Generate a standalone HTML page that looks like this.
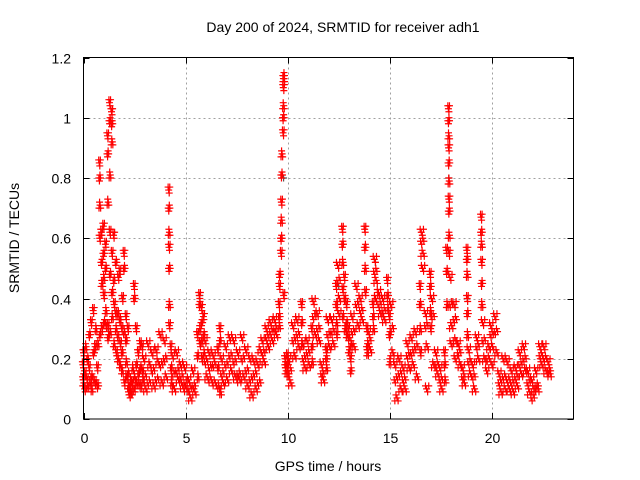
<!DOCTYPE html>
<html><head><meta charset="utf-8"><style>
body{margin:0;background:#fff}
svg{display:block;font-family:"Liberation Sans",sans-serif}
</style></head><body>
<svg id="chart" width="640" height="480" viewBox="0 0 640 480">
<rect width="640" height="480" fill="#fff"/>
<text x="343" y="32" font-size="14" text-anchor="middle">Day 200 of 2024, SRMTID for receiver adh1</text>
<text x="328" y="471" font-size="14" text-anchor="middle">GPS time / hours</text>
<text transform="translate(19,238) rotate(-90)" font-size="14" text-anchor="middle">SRMTID / TECUs</text>
<g id="grid"></g>
<g id="marks"></g>
<rect x="83.5" y="57.5" width="490" height="361.5" fill="none" stroke="#000" stroke-width="1"/>
<g id="ticks"></g>
</svg>
<script>
const xTicks=[0,5,10,15,20];
const yTicks=[0,0.2,0.4,0.6,0.8,1,1.2];
const yTickLabels=["0","0.2","0.4","0.6","0.8","1","1.2"];
const hours=[0.0,0.1,0.2,0.3,0.4,0.5,0.6,0.7,0.8,0.9,1.0,1.1,1.2,1.3,1.4,1.5,1.6,1.7,1.8,1.9,2.0,2.1,2.2,2.3,2.4,2.5,2.6,2.7,2.8,2.9,3.0,3.2,3.4,3.6,3.8,4.0,4.2,4.3,4.4,4.6,4.8,5.0,5.2,5.4,5.6,5.7,5.8,5.9,6.0,6.2,6.4,6.6,6.7,6.8,7.0,7.2,7.4,7.6,7.8,8.0,8.2,8.4,8.6,8.8,9.0,9.2,9.4,9.6,9.7,9.8,9.9,10.0,10.1,10.3,10.5,10.7,10.8,11.0,11.2,11.3,11.5,11.7,11.9,12.0,12.2,12.4,12.5,12.7,12.8,12.9,13.0,13.1,13.2,13.4,13.6,13.8,13.9,14.0,14.2,14.3,14.5,14.7,14.9,15.0,15.1,15.3,15.5,15.7,15.9,16.1,16.3,16.5,16.6,16.8,17.0,17.1,17.3,17.5,17.7,17.8,17.9,18.0,18.2,18.4,18.6,18.8,18.9,19.1,19.3,19.5,19.6,19.8,20.0,20.2,20.4,20.6,20.8,21.0,21.2,21.4,21.6,21.8,22.0,22.2,22.4,22.6,22.8];
const srmtid=[[.18,.14,.12,.22],[.15,.10,.24],[.13,.20,.11],[.17,.28,.12],[.32,.14,.10],[.36,.22,.13],[.24,.12,.30],[.17,.11,.25],[.85,.80,.71,.60,.28],[.62,.52,.45,.30],[.64,.55,.47,.41,.32],[.58,.50,.36,.31],[.94,.88,.72,.31,.27],[1.05,.99,.81,.62,.48,.29],[1.02,.98,.92,.55,.42,.34],[.61,.46,.25,.38],[.35,.52,.30,.22],[.27,.35,.20,.47],[.49,.33,.18,.25],[.30,.22,.16,.40],[.55,.50,.29,.12],[.34,.26,.19,.14],[.30,.15,.11,.09],[.10,.08,.13],[.12,.09,.17],[.44,.40,.14,.10],[.30,.18,.12],[.22,.15,.12],[.25,.17,.11],[.24,.16,.13],[.20,.14,.10],[.25,.12,.18],[.22,.16,.11],[.23,.13,.19],[.28,.18,.12],[.26,.20,.14],[.76,.70,.62,.57,.50,.38,.31],[.24,.17,.12],[.21,.15,.10],[.22,.16,.13],[.18,.14,.11],[.17,.12,.10],[.13,.10,.07],[.16,.11,.09],[.28,.21,.14],[.41,.38,.30,.25],[.37,.32,.26,.20],[.34,.28,.22],[.26,.19,.14],[.22,.17,.13],[.21,.18,.12],[.23,.17,.11],[.30,.26,.09],[.20,.15,.12],[.24,.18,.13],[.27,.21,.16],[.26,.19,.14],[.22,.15,.13],[.27,.20,.14],[.23,.16,.11],[.20,.13,.08],[.19,.15,.10],[.18,.12,.23],[.26,.22,.19],[.30,.27,.24],[.32,.29,.26],[.33,.30,.28],[.38,.34,.31,.44,.48],[.55,.60,.66,.72,.81,.88],[.95,1.00,1.04,1.10,1.14,1.13,.41],[.20,.18,.16],[.21,.18,.15],[.20,.16,.12],[.31,.26,.21],[.33,.28,.24],[.38,.32,.25],[.25,.20,.17],[.26,.22,.18],[.30,.24,.19],[.39,.34,.28],[.35,.30,.26],[.18,.15,.13],[.23,.20,.17],[.33,.28,.24],[.33,.29,.25],[.44,.38,.32,.28],[.51,.46,.40,.35],[.63,.58,.52,.43,.34],[.47,.40,.30],[.38,.32,.28],[.30,.27,.23],[.20,.16,.25],[.34,.29,.24],[.44,.38,.31],[.40,.36,.33],[.63,.57,.50,.42],[.30,.24,.22],[.29,.26,.23],[.38,.34,.30],[.53,.49,.46,.40],[.42,.38,.35],[.40,.36,.33],[.46,.41,.37],[.34,.28,.19],[.38,.30,.22],[.18,.13,.07],[.20,.15,.10],[.17,.13,.10],[.25,.21,.17],[.27,.22,.18],[.29,.24,.14],[.44,.38,.30,.22],[.62,.59,.55,.50],[.35,.31,.24,.10],[.48,.44,.36,.30],[.40,.34,.18],[.22,.18,.15],[.17,.13,.10],[.22,.18,.13],[.56,.49,.38],[1.03,.99,.94,.90,.85,.79,.73,.69,.61,.55],[.47,.38,.31,.25],[.38,.33,.26,.20],[.25,.22,.18],[.17,.14,.12],[.56,.53,.48,.40,.35,.28],[.23,.19,.15],[.18,.14,.10],[.27,.24,.20],[.67,.62,.58,.52,.45,.38],[.32,.26,.20],[.16,.20,.24],[.31,.28,.24,.18],[.34,.29,.22],[.15,.12,.09],[.20,.14,.10],[.19,.13,.10],[.16,.12,.09],[.17,.14,.11],[.22,.18,.15],[.24,.20,.16],[.16,.12,.09],[.13,.07,.10],[.16,.11,.10],[.24,.21,.18],[.24,.20,.16],[.19,.16,.15]];
const grayHours=[1.2,5.7,9.8,12.5,14.3,17.9,18.2];
const grayValues=[.30,.41,.80,.44,.52,.80,.37];

const X0=83.5,X1=573.5,Y0=419,Y1=57.5,XMAX=24,YMAX=1.2;
const xs=h=>X0+(h/XMAX)*(X1-X0);
const ys=v=>Y0-(v/YMAX)*(Y0-Y1);
const NS='http://www.w3.org/2000/svg';
const grid=document.getElementById('grid'),ticks=document.getElementById('ticks'),marks=document.getElementById('marks');
function line(p,x1,y1,x2,y2,st,dash){const l=document.createElementNS(NS,'line');l.setAttribute('x1',x1);l.setAttribute('y1',y1);l.setAttribute('x2',x2);l.setAttribute('y2',y2);l.setAttribute('stroke',st);if(dash)l.setAttribute('stroke-dasharray',dash);p.appendChild(l);return l;}
xTicks.forEach((t,i)=>{const x=Math.round(xs(t))+0.5;
 if(i>0){const g=line(grid,x,Y1,x,Y0,'#a0a0a0','2,3');
 
 }
 line(ticks,x,Y0,x,Y0-6,'#000');line(ticks,x,Y1,x,Y1+6,'#000');
 const tx=document.createElementNS(NS,'text');tx.setAttribute('x',x);tx.setAttribute('y',443);tx.setAttribute('font-size','14');tx.setAttribute('text-anchor','middle');tx.textContent=t;
 
 
 ticks.appendChild(tx);});
yTicks.forEach((t,i)=>{const y=Math.round(ys(t))+0.5;
 if(i>0&&i<yTicks.length-1){const g=line(grid,X0,y,X1,y,'#a0a0a0','2,3');
 
 }
 line(ticks,X0,y,X0+6,y,'#000');line(ticks,X1,y,X1-6,y,'#000');
 const tx=document.createElementNS(NS,'text');tx.setAttribute('x',71);tx.setAttribute('y',y+5);tx.setAttribute('font-size','14');tx.setAttribute('text-anchor','end');tx.textContent=yTickLabels[i];
 
 
 ticks.appendChild(tx);});
function cross(x,y,col,name){const p=document.createElementNS(NS,'path');
 p.setAttribute('d',`M${x-3.5} ${y}H${x+3.5}M${x} ${y-3.5}V${y+3.5}`);p.setAttribute('stroke',col);p.setAttribute('stroke-width','1.2');p.setAttribute('fill','none');
 
 
 marks.appendChild(p);}
grayHours.forEach((h,i)=>cross(xs(h),ys(grayValues[i]),'#555','gray-point'));
const dxFrac=[-0.4,-0.13,0.13,0.4];
const dyPx=[-3,0,3];
hours.forEach((h,i)=>{const vals=srmtid[i];const next=i<hours.length-1?hours[i+1]:h+0.2;const span=Math.min(next-h,0.2);
 vals.forEach((v,j)=>{const base=vals.length>1?(j/(vals.length-1)-0.5)*span*0.3:0;
  const cx=xs(h+base),cy=ys(v);const pxSpan=xs(span)-xs(0);
  dxFrac.forEach((f,k)=>{const dy=dyPx[(j+k)%3];cross(cx+f*pxSpan,cy+dy,'#ff0000','srmtid-point');});});});
</script>
</body></html>
